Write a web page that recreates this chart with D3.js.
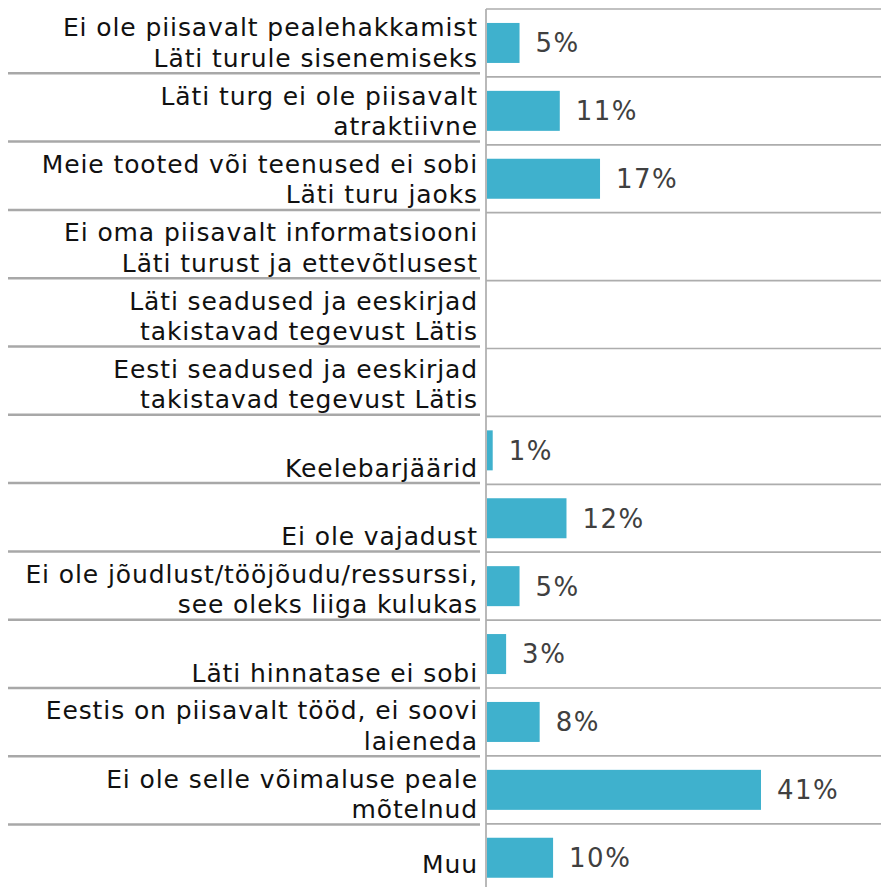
<!DOCTYPE html>
<html>
<head>
<meta charset="utf-8">
<script src="https://cdn.jsdelivr.net/npm/d3@7"></script>
<style>
  body { margin: 0; background: #fff; }
  svg { display: block; }
</style>
</head>
<body>
<div id="chart"></div>
<script>
// categories, top to bottom ("\n" = line break in label)
var categories = [
  "Ei ole piisavalt pealehakkamist\nLäti turule sisenemiseks",
  "Läti turg ei ole piisavalt\natraktiivne",
  "Meie tooted või teenused ei sobi\nLäti turu jaoks",
  "Ei oma piisavalt informatsiooni\nLäti turust ja ettevõtlusest",
  "Läti seadused ja eeskirjad\ntakistavad tegevust Lätis",
  "Eesti seadused ja eeskirjad\ntakistavad tegevust Lätis",
  "Keelebarjäärid",
  "Ei ole vajadust",
  "Ei ole jõudlust/tööjõudu/ressurssi,\nsee oleks liiga kulukas",
  "Läti hinnatase ei sobi",
  "Eestis on piisavalt tööd, ei soovi\nlaieneda",
  "Ei ole selle võimaluse peale\nmõtelnud",
  "Muu"
];
// share of respondents, % (null = no answer)
var values = [5, 11, 17, null, null, null, 1, 12, 5, 3, 8, 41, 10];

var width = 881, height = 887;
var axisX = 486;
var n = categories.length;

var svg = d3.select("#chart").append("svg")
  .attr("width", width)
  .attr("height", height);

// right grid (bars) and left grid (labels) are slightly offset rows
var yRight = d3.scaleBand()
  .domain(d3.range(n))
  .range([9, 9 + n * 67.9]);
var yLeft = d3.scaleBand()
  .domain(d3.range(n))
  .range([5, 5 + n * 68.3]);

var x = d3.scaleLinear()
  .domain([0, 41])
  .range([axisX, 761]);

var barH = 40;

// right grid lines
svg.append("g").selectAll("line")
  .data(d3.range(n))
  .enter().append("line")
  .attr("x1", axisX).attr("x2", width)
  .attr("y1", d => yRight(d)).attr("y2", d => yRight(d))
  .attr("stroke", "#adadad")
  .attr("stroke-width", 1.7);

// left separators (between label cells)
svg.append("g").selectAll("line")
  .data(d3.range(n - 1))
  .enter().append("line")
  .attr("x1", 8).attr("x2", 480)
  .attr("y1", d => yLeft(d) + yLeft.bandwidth()).attr("y2", d => yLeft(d) + yLeft.bandwidth())
  .attr("stroke", "#a8a8a8")
  .attr("stroke-width", 2.5);

// bars
var rows = categories.map((c, i) => ({ i: i, label: c, value: values[i] }));

svg.append("g").selectAll("rect")
  .data(rows.filter(d => d.value != null))
  .enter().append("rect")
  .attr("x", x(0) + 1)
  .attr("y", d => yRight(d.i) + yRight.bandwidth() / 2 - barH / 2)
  .attr("width", d => x(d.value) - x(0) - 1)
  .attr("height", barH)
  .attr("fill", "#3fb1cd");

// value labels
svg.append("g").selectAll("text")
  .data(rows.filter(d => d.value != null))
  .enter().append("text")
  .attr("x", d => x(d.value) + 16)
  .attr("y", d => yRight(d.i) + yRight.bandwidth() / 2)
  .attr("dy", "0.36em")
  .attr("font-family", "DejaVu Sans, Verdana, sans-serif")
  .attr("font-size", 26)
  .attr("letter-spacing", 1.5)
  .attr("fill", "#404040")
  .text(d => d.value + "%");

// axis line
svg.append("line")
  .attr("x1", axisX).attr("x2", axisX)
  .attr("y1", 9).attr("y2", height)
  .attr("stroke", "#adadad")
  .attr("stroke-width", 1.7);

// category labels, bottom-aligned in their cells
var lab = svg.append("g").selectAll("text")
  .data(rows)
  .enter().append("text")
  .attr("text-anchor", "end")
  .attr("font-family", "DejaVu Sans, Verdana, sans-serif")
  .attr("font-size", 25)
  .attr("letter-spacing", 0.9)
  .attr("fill", "#111");

lab.each(function(d) {
  var lines = d.label.split("\n");
  var bottom = Math.min(yLeft(d.i) + yLeft.bandwidth(), height - 8);
  var base = bottom - 6.5;
  var t = d3.select(this);
  lines.forEach((ln, k) => {
    t.append("tspan")
      .attr("x", 478)
      .attr("y", base - (lines.length - 1 - k) * 30.5)
      .text(ln);
  });
});
</script>
</body>
</html>
